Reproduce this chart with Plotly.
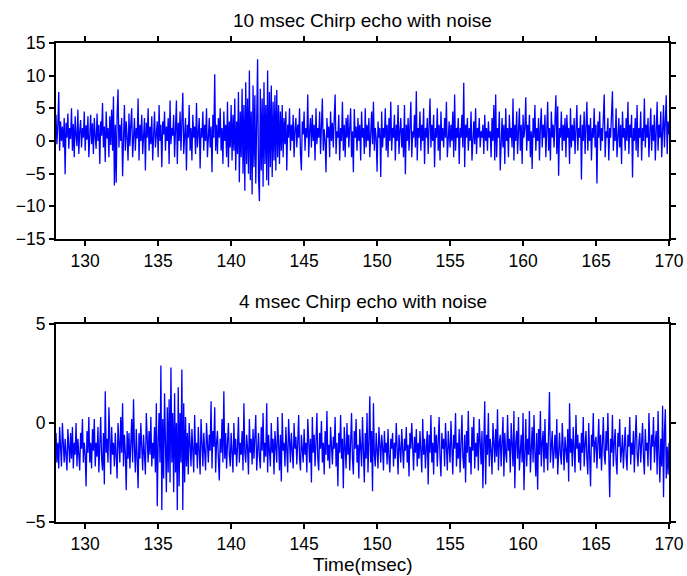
import numpy as np
import plotly.graph_objects as go

# time axis: samples every 1/16 ms from 128 to 170 ms
t_start = 128.0
t_step = 1.0 / 16.0

# 10 msec chirp echo with noise (one row per ms)
echo10 = [
    4.0, -0.5, 2.5, 7.5, -1.5, 3.0, 0.0, 2.2, -1.0, 3.5, -5.1, 2.8, 0.5, 4.2, -1.2, 2.0,
    0.3, 5.0, -1.5, 2.6, -2.5, 3.8, 0.8, -0.8, 4.8, -2.0, 1.5, 3.2, -1.0, 2.0, 0.5, 4.5,
    -1.5, 2.4, 0.2, 3.8, -2.5, 1.8, 4.0, -0.5, 2.7, -2.0, 3.5, 0.6, -1.2, 4.2, 0.0, 2.5,
    -3.5, 3.0, 0.8, 5.8, -1.0, 2.2, -3.2, 4.5, 0.4, 2.0, -2.5, 3.8, -0.6, 4.8, -1.5, 6.8,
    -6.8, 2.5, -6.4, 4.0, 7.9, -1.0, 2.5, 0.0, 3.5, -5.4, 2.0, 5.5, -1.5, 3.0, 0.5, -3.0,
    4.2, -0.8, 2.5, 5.0, -2.5, 1.8, 3.5, -1.5, 2.0, 0.4, 6.5, -3.0, 2.5, 0.0, 4.0, -2.0,
    1.5, 3.5, -4.5, 2.8, 0.5, 5.0, -1.5, 2.2, -0.5, 3.8, -3.0, 2.0, 4.5, -1.0, 1.5, 3.0,
    -2.5, 5.5, 0.0, 2.5, -4.0, 3.0, 1.0, 4.5, -1.5, 2.2, 0.0, 3.5, -3.5, 6.2, -0.5, 2.0,
    0.8, 4.0, -2.5, 1.5, 6.2, -3.5, 2.8, 0.0, 4.5, -1.5, 2.2, 7.4, -2.0, 1.5, 3.5, -4.5,
    2.5, 0.5, 5.5, -1.5, 2.0, -3.0, 4.0, 0.5, 2.2, -2.0, 5.8, -1.0, 1.5, 3.5, -4.2, 2.0,
    0.5, 4.5, -1.5, 2.5, 0.0, 5.0, -2.5, 1.8, 3.5, -1.0, 2.2, -4.8, 4.0, 0.5, 10.2, -1.5,
    2.5, -2.0, 3.5, 0.5, 5.0, -1.5, 2.0, -3.5, 4.5, 0.0, 2.5, -2.5, 6.0, -4.0, 3.0, -1.0,
    5.5, -3.0, 4.0, -1.5, 6.5, -4.5, 3.0, -2.0, 7.5, -6.3, 4.5, -2.5, 8.0, -5.0, 5.5, -7.6,
    9.0, -3.5, 6.5, -5.0, 10.8, -6.0, 4.5, -8.2, 8.5, -4.0, 7.0, -6.5, 9.5, 12.5, -5.5, -9.2,
    8.0, -4.5, 6.5, -7.0, 9.0, -3.5, 5.5, -6.0, 10.8, -6.8, 7.5, -4.0, 8.5, -5.5, 6.0, -3.0,
    7.0, -4.5, 7.8, -2.5, 5.5, -3.5, 4.5, -1.5, 5.5, -2.5, 3.5, -0.5, 4.5, -4.5, 2.5, 0.5,
    5.0, -1.5, 2.5, 0.0, 4.0, -2.5, 1.8, 3.5, -1.0, 2.5, 0.5, 5.0, -2.0, -4.5, 3.0, 1.0,
    4.5, -1.5, 2.0, 0.5, 7.1, -2.5, 1.5, 3.5, -1.0, 4.0, 0.0, 2.5, -3.0, 5.0, -0.5, 2.0,
    0.5, 4.5, -2.0, 2.5, 6.5, -1.5, 1.8, 0.0, -4.8, 3.5, 0.5, 2.2, -2.5, 4.5, 0.0, 2.8,
    -1.0, 3.5, 7.1, -2.0, 1.5, 0.5, 4.0, -3.0, 2.0, 0.0, 6.0, -1.5, 2.5, -2.5, 3.5, 0.5,
    4.0, -1.0, 2.0, 5.0, -2.5, 1.5, -4.8, 4.9, 0.5, 2.2, -1.5, 3.5, 0.0, 2.5, -3.0, 4.5,
    0.5, 2.0, -2.0, 5.0, -1.0, 2.5, 0.0, 3.5, -2.5, 1.5, 4.5, -0.5, 6.0, -1.5, 2.0, 0.5,
    -4.7, 3.0, 0.5, 2.0, -5.5, 4.5, -1.0, 2.0, 0.5, 5.0, -1.5, 2.5, -2.5, 3.5, 0.0, 6.0,
    -1.5, 2.0, 0.5, 4.0, -3.0, 2.5, 0.0, 5.5, -2.0, 1.5, 3.5, -1.0, 2.0, -2.5, 5.5, -5.1,
    2.5, 0.0, 3.5, -1.5, 2.0, 6.0, -2.5, 1.5, 0.5, 4.0, -1.0, 7.6, -3.0, 2.0, 0.5, 4.5,
    -1.5, 2.5, 0.0, 5.0, -3.5, 2.0, 0.5, 3.5, -2.0, 1.5, 6.5, -1.0, 2.5, 0.0, 4.0, -4.0,
    2.0, 0.5, 5.0, -1.5, 2.5, -3.0, 4.5, 0.0, 2.0, -1.0, 3.5, 0.5, 6.0, -2.5, 1.5, 3.0,
    -1.0, 2.5, 0.0, 4.5, -2.5, 7.1, -1.5, 2.0, 0.5, 3.5, -3.5, 2.0, 0.5, 4.0, -1.0, 8.9,
    -4.0, 2.5, 0.5, 3.5, -1.5, 2.0, 0.0, 4.5, -3.0, 1.5, 3.0, -0.5, 5.0, -2.0, 2.0, 0.5,
    3.5, -1.0, 1.5, 0.5, 2.5, -2.0, 4.0, 0.0, 2.0, -1.5, 3.0, 0.5, 1.5, -2.5, 3.5, 0.0,
    5.5, -3.0, 7.1, -2.5, 2.0, 0.5, 4.5, -4.5, 1.5, 3.5, -1.0, 2.5, -3.5, 5.0, 0.0, 2.0,
    -2.5, 4.0, 0.5, 2.0, -1.0, 6.5, -3.0, 2.5, 0.0, 4.5, -2.0, 1.5, 5.0, -1.5, 2.5, -3.5,
    4.0, 0.5, 2.0, 6.7, -1.5, 2.5, 0.0, 4.0, -2.5, 1.5, -4.3, 3.5, 0.5, 5.5, -1.5, 2.0,
    0.0, 3.5, -3.0, 2.0, 5.0, -1.0, 2.5, 0.5, 4.0, -2.5, 1.5, 6.0, -1.5, 2.0, -3.0, 4.5,
    0.5, 2.5, -1.0, 4.0, 7.0, -2.0, 5.3, -5.3, 2.0, 0.5, 4.5, -1.5, 2.5, 0.0, 3.5, -2.5,
    4.0, 0.5, 2.0, -3.5, 5.0, -1.0, 2.5, 0.0, 3.5, -2.0, 1.5, 5.5, -1.5, 2.0, 0.5, 4.0,
    -5.9, 2.5, 0.0, 4.5, -2.0, 1.5, 6.0, -1.5, 2.5, 0.0, 3.5, -3.0, 2.0, 0.5, 5.0, -1.0,
    2.5, -6.5, 3.0, 0.5, 4.5, -1.5, 2.0, 0.0, 5.5, 7.1, -2.5, 1.5, 0.5, 3.5, -3.0, 2.0,
    0.5, 4.0, 7.6, -1.5, 2.0, 0.0, 5.0, -2.5, 1.5, 3.5, -1.0, 2.5, -3.5, 4.5, 0.5, 2.0,
    -1.5, 3.5, 0.0, 6.0, -2.0, 2.5, 0.5, 4.0, -5.6, 2.0, 0.0, 3.5, -1.5, 5.5, -2.5, 2.0,
    0.5, 4.5, -3.0, 2.0, 0.0, 6.5, -1.0, 2.5, 0.5, 3.5, -2.5, 1.5, 5.0, -1.5, 2.5, 0.0,
    4.0, -3.0, 2.0, 6.0, -1.5, 2.5, 0.5, 4.5, -2.5, 1.5, 5.5, -1.0, 2.0, 7.0, -2.0, 3.0,
    1.0,
]

# 4 msec chirp echo with noise (one row per ms)
echo4 = [
    -0.5, -2.0, -1.0, -2.3, -0.2, -1.5, -2.2, 0.0, -1.2, -2.0, -0.8, -1.6, -2.4, -0.3, -1.4, -2.0,
    -0.5, -1.8, -0.2, -2.3, -1.0, -1.6, 0.0, -2.2, -0.8, -1.5, -2.4, -0.5, -1.3, 0.2, -2.0, -1.0,
    -1.6, -3.2, -0.4, -1.5, 0.3, -2.0, -1.0, -2.3, -0.3, -1.4, 0.2, -2.2, -1.0, -1.7, -0.2, -2.5,
    -1.0, 0.3, -1.8, -2.4, -0.5, -3.1, 1.6, -1.5, -0.8, -2.0, 0.8, -1.4, -2.6, -0.2, -1.6, -1.0,
    -2.2, -0.5, -1.4, -2.8, 0.0, -1.2, -2.0, 0.3, -1.5, 1.0, -2.2, -0.6, -1.5, -3.4, -0.4, -1.8,
    -0.5, -2.3, -1.0, 0.2, -2.0, 1.2, -1.3, -2.5, -0.3, -1.6, -3.3, -0.5, -1.8, 0.0, -1.2, -2.4,
    -0.6, -1.5, -2.6, 0.5, -1.2, -2.0, -0.4, -1.6, 0.3, -2.2, -1.0, -1.8, -0.2, -2.5, 1.0, -4.2,
    -1.0, 0.5, -2.0, 2.9, -4.4, 0.2, -2.8, 1.5, -1.0, -3.5, 0.8, -2.5, 1.2, -3.0, 2.8, -2.0,
    0.5, -3.5, 1.5, -2.5, 0.0, -4.4, 1.8, -3.2, 0.5, -2.0, 2.7, -4.4, 1.0, -3.0, 0.3, -2.2,
    -0.5, -2.6, 0.0, -1.5, -2.2, -0.3, -1.8, -2.5, 0.4, -1.6, -1.0, -2.3, -0.2, -1.4, -2.6, 0.2,
    -1.5, -2.2, -0.5, -1.6, -2.4, 0.0, -1.0, -2.0, -0.6, -1.4, 1.1, -2.3, -0.4, -1.2, 0.8, -2.5,
    -1.0, -0.4, -1.8, -2.9, -0.8, -1.5, 0.2, -2.0, 1.6, -1.8, -0.5, -2.3, -1.0, 0.0, -1.6, -2.2,
    -0.5, -1.4, -2.5, 0.0, -1.6, -0.8, -2.2, -1.2, 0.3, -2.0, -1.0, -1.6, -0.4, -2.4, 1.0, -1.5,
    -2.0, -0.6, -1.3, -2.6, 0.2, -1.5, -0.8, -2.1, -0.3, -1.8, -1.0, 0.4, -2.4, -1.2, -0.5, -1.7,
    -2.3, -0.2, -1.4, 0.5, -2.0, -1.0, -1.7, 1.0, -2.5, -0.6, -1.4, -2.2, 0.0, -1.5, -0.8, -2.6,
    -0.4, -1.2, -2.0, 0.3, -1.6, -2.4, -0.6, -2.95, 0.5, -1.4, -1.0, -2.2, -0.2, -1.6, -2.5, 0.2,
    -1.2, -2.0, -0.5, -1.5, -2.3, 0.0, -1.3, -0.7, -2.1, -1.0, 0.4, -1.8, -2.4, -0.6, -1.4, -2.0,
    -0.3, -1.6, -1.0, -2.5, 0.2, -1.3, -2.0, -0.8, -3.0, 0.3, -1.5, -0.6, -2.2, -1.0, 0.5, -1.8,
    -2.4, -0.5, -1.3, 0.1, -2.0, -1.0, -2.6, -0.4, -1.6, 0.6, -1.9, -1.1, -2.3, -0.2, -1.5, -2.1,
    -0.7, -1.3, 0.3, -2.2, -1.0, -3.2, -0.5, -1.5, 0.4, -1.8, -0.8, -3.3, -0.2, -1.4, -2.3, 0.0,
    -1.6, -0.6, -2.4, -1.0, 0.5, -1.8, -2.6, -0.4, -1.3, 0.2, -2.0, -1.1, -2.8, -0.3, -1.5, -2.2,
    0.3, -1.3, -3.0, -0.5, -1.8, 0.5, -2.5, -1.0, 1.35, -2.0, -0.4, -3.45, 1.0, -1.6, -2.2, -0.5,
    -1.4, -2.3, -0.2, -1.6, -2.0, -0.6, -1.2, -2.4, -0.4, -1.5, -1.0, -2.1, -0.3, -1.7, -2.5, -0.8,
    -1.3, -0.5, -2.2, -1.0, -1.8, 0.0, -1.5, -2.6, -0.6, -1.2, -2.0, -0.3, -1.6, -2.3, -0.8, -1.4,
    -0.2, -2.0, -1.1, -2.7, -0.5, -1.3, 0.0, -1.8, -2.4, -0.7, -1.5, -0.3, -2.2, -1.0, -1.8, -0.4,
    -1.4, -2.5, 0.2, -1.6, -0.8, -2.3, -1.2, -0.4, -3.1, -0.6, -1.5, 0.4, -2.0, -1.0, -2.6, -0.2,
    -1.5, -0.6, -2.2, -1.2, 0.3, -1.8, -2.7, -0.5, -1.3, -0.8, -2.2, 0.0, -1.6, -2.4, -0.4, -1.2,
    -2.0, 0.1, -1.5, -2.6, -0.6, -1.3, 0.5, -2.2, -1.0, -1.8, -0.3, -2.5, -1.1, 0.4, -1.7, -2.3,
    -0.6, -3.0, -0.4, -1.5, 0.6, -2.0, -1.2, -2.6, -0.2, -1.4, 0.3, -2.3, -1.0, -1.7, -0.5, -2.4,
    0.2, -1.5, -2.1, -0.4, -3.3, -1.0, 1.1, -3.1, -0.6, -1.6, 0.5, -2.2, -0.8, -1.4, -2.6, 0.0,
    -1.2, -2.0, -0.3, -1.7, 0.7, -2.4, -1.0, -0.6, -2.2, -1.3, 0.3, -2.7, -0.5, -1.5, -2.0, 0.4,
    -1.4, -0.8, -2.5, 0.0, -1.6, -2.2, 0.6, -3.3, -1.0, -0.4, -1.8, 0.3, -2.4, -1.1, -0.6, -2.0,
    0.5, -3.4, -1.0, 0.2, -2.2, -0.8, -1.6, 0.6, -2.5, -1.2, -0.2, -2.0, 0.4, -1.5, -2.7, -0.5,
    -3.37, -0.3, -1.6, 0.6, -2.2, -1.0, -0.4, -2.5, 0.2, -1.8, -1.0, -2.4, -0.2, 1.56, -2.0, -1.0,
    -0.4, -2.3, -1.2, -0.6, -1.8, 0.2, -2.6, -1.0, -0.5, -1.6, -2.1, 0.0, -1.4, -2.4, -0.7, -1.2,
    -2.0, -0.3, -2.95, 1.0, -1.5, -0.8, -2.2, -0.2, -1.7, -2.5, 0.4, -1.3, -0.6, -2.0, -1.0, -2.4,
    -0.5, -1.5, 0.3, -2.2, -1.1, -0.4, -1.8, -2.6, 0.0, -1.4, -3.2, -0.6, -1.2, 0.5, -2.0, -1.0,
    -0.7, -2.3, -1.3, 0.2, -1.8, -0.6, -2.4, -1.0, 0.3, -1.6, -2.1, -0.4, -1.4, 0.5, -2.6, -3.75,
    -0.8, -1.5, 0.4, -2.2, -1.0, -0.3, -1.9, -2.6, -0.5, -1.2, 0.2, -2.0, -1.4, -0.6, -2.3, -1.0,
    -0.2, -1.7, -2.4, -0.6, -1.2, 0.3, -2.1, -1.0, -1.6, -0.4, -2.5, -0.8, 0.4, -1.5, -2.2, -1.0,
    -0.5, -2.0, -1.2, 0.0, -1.7, -2.6, -0.3, -1.4, -1.0, -2.2, 0.5, -1.6, -2.4, -0.6, -1.2, 0.3,
    -2.0, -1.0, -0.4, -2.6, 0.6, -1.5, -3.0, -0.8, -2.2, 0.87, -3.75, -0.5, 0.7, -2.8, -1.2, -2.6,
    -1.0,
]

titles = ["10 msec Chirp echo with noise", "4 msec Chirp echo with noise"]
x_ticks = [130, 135, 140, 145, 150, 155, 160, 165, 170]
y_ticks_top = [-15, -10, -5, 0, 5, 10, 15]
y_ticks_bottom = [-5, 0, 5]
x_label = "Time(msec)"

t10 = t_start + t_step * np.arange(len(echo10))
t4 = t_start + t_step * np.arange(len(echo4))

W, H = 687, 576
ml, mr, mt, mb = 55.5, 18, 43, 54
ph = H - mt - mb

def frac(ypix):
    return 1 - (ypix - mt) / ph

fig = go.Figure()
fig.add_trace(go.Scatter(x=t10, y=echo10, mode="lines",
                         line=dict(color="#0000FF", width=1.3),
                         xaxis="x", yaxis="y", showlegend=False))
fig.add_trace(go.Scatter(x=t4, y=echo4, mode="lines",
                         line=dict(color="#0000FF", width=1.3),
                         xaxis="x2", yaxis="y2", showlegend=False))

fam = "Liberation Sans, Arial, sans-serif"
tickfont = dict(family=fam, size=17.5, color="black")
labelfont = dict(family=fam, size=19, color="black")
axis_common = dict(showline=True, linewidth=2, linecolor="black", mirror="ticks",
                   ticks="outside", ticklen=5, tickwidth=2, tickcolor="black",
                   showgrid=False, zeroline=False, tickfont=tickfont, automargin=False)

fig.update_layout(
    width=W, height=H,
    margin=dict(l=ml, r=mr, t=mt, b=mb, pad=0),
    paper_bgcolor="white", plot_bgcolor="white",
    xaxis=dict(domain=[0, 1], anchor="y", range=[128, 170],
               tickvals=x_ticks, **axis_common),
    yaxis=dict(domain=[frac(239), 1], anchor="x", range=[-15, 15],
               tickvals=y_ticks_top, **axis_common),
    xaxis2=dict(domain=[0, 1], anchor="y2", range=[128, 170],
                tickvals=x_ticks, **axis_common),
    yaxis2=dict(domain=[0, frac(324)], anchor="x2", range=[-5, 5],
                tickvals=y_ticks_bottom, **axis_common),
    annotations=[
        dict(text=titles[0], x=0.5, y=1, xref="paper", yref="paper",
             xanchor="center", yanchor="bottom", yshift=10, showarrow=False, font=labelfont),
        dict(text=titles[1], x=0.5, y=frac(324), xref="paper", yref="paper",
             xanchor="center", yanchor="bottom", yshift=10, showarrow=False, font=labelfont),
        dict(text=x_label, x=0.5, y=0, xref="paper", yref="paper",
             xanchor="center", yanchor="top", yshift=-30, showarrow=False, font=labelfont),
    ],
)

fig.write_html("out.html")
